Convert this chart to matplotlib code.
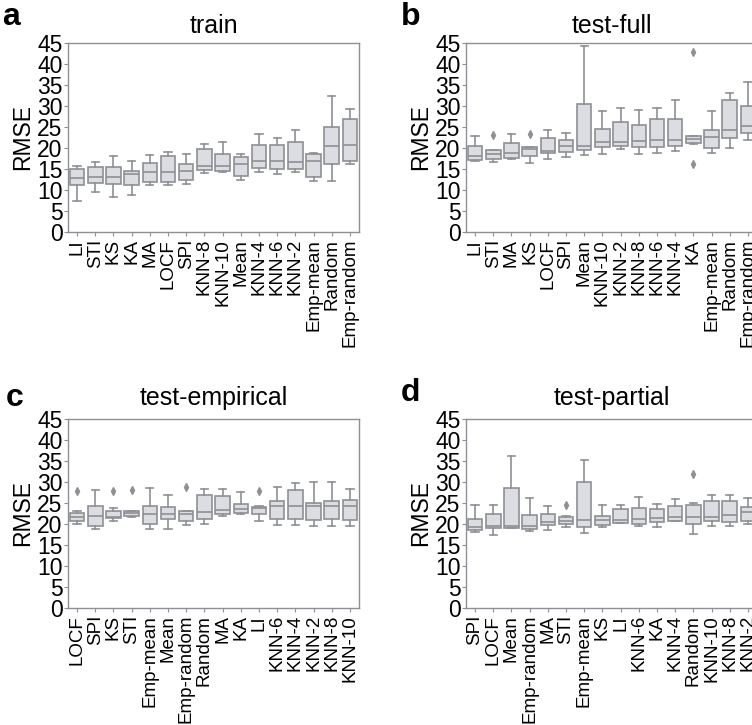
import matplotlib
matplotlib.use("Agg")
import matplotlib.pyplot as plt

plt.rcParams['font.family'] = ['Liberation Sans', 'DejaVu Sans']

# panel a: train
a_labels = ['LI', 'STI', 'KS', 'KA', 'MA', 'LOCF', 'SPI', 'KNN-8', 'KNN-10', 'Mean',
            'KNN-4', 'KNN-6', 'KNN-2', 'Emp-mean', 'Random', 'Emp-random']
a_lo = [7.4, 9.6, 8.3, 8.8, 11.3, 11.3, 11.5, 14.0, 14.2, 12.3, 14.4, 13.7, 14.4, 12.1, 12.2, 16.2]
a_q1 = [11.3, 11.6, 11.4, 11.1, 11.9, 12.0, 12.5, 14.7, 14.6, 13.4, 15.3, 15.0, 15.1, 13.0, 16.1, 16.8]
a_med = [12.9, 13.0, 13.0, 13.8, 14.3, 14.3, 14.6, 15.8, 15.8, 16.2, 16.8, 16.8, 16.7, 17.0, 20.5, 20.6]
a_q3 = [15.1, 15.4, 15.4, 14.6, 16.5, 18.0, 16.3, 19.7, 18.6, 17.8, 20.8, 20.6, 21.4, 18.6, 25.0, 26.8]
a_hi = [15.8, 16.7, 18.2, 17.0, 18.4, 19.1, 18.6, 20.9, 21.5, 18.6, 23.3, 22.5, 24.4, 18.7, 32.4, 29.3]
a_fliers = {}

# panel b: test-full
b_labels = ['LI', 'STI', 'MA', 'KS', 'LOCF', 'SPI', 'Mean', 'KNN-10', 'KNN-2', 'KNN-8',
            'KNN-6', 'KNN-4', 'KA', 'Emp-mean', 'Random', 'Emp-random']
b_lo = [16.9, 16.7, 17.4, 16.5, 17.4, 17.8, 18.3, 18.6, 19.7, 18.6, 18.9, 19.4, 20.9, 18.9, 20.1, 21.9]
b_q1 = [17.1, 17.5, 17.7, 18.0, 18.9, 19.0, 19.5, 20.2, 20.4, 20.2, 20.2, 20.5, 21.1, 19.9, 22.4, 23.6]
b_med = [18.2, 18.6, 18.8, 19.7, 19.2, 20.4, 20.5, 21.5, 21.5, 21.6, 21.8, 21.8, 22.1, 22.6, 24.2, 25.2]
b_q3 = [20.5, 19.5, 21.3, 20.2, 22.3, 22.0, 30.4, 24.6, 26.2, 25.4, 26.9, 26.9, 22.9, 24.4, 31.4, 29.9]
b_hi = [22.9, 19.6, 23.4, 20.3, 24.4, 23.6, 44.3, 28.8, 29.5, 29.1, 29.5, 31.4, 22.9, 28.7, 33.2, 35.7]
b_fliers = {'STI': [23.2], 'KS': [23.3], 'KA': [42.8, 16.3]}

# panel c: test-empirical
c_labels = ['LOCF', 'SPI', 'KS', 'STI', 'Emp-mean', 'Mean', 'Emp-random', 'Random', 'MA', 'KA',
            'LI', 'KNN-6', 'KNN-4', 'KNN-2', 'KNN-8', 'KNN-10']
c_lo = [20.0, 18.8, 20.7, 21.6, 18.9, 18.7, 19.8, 20.0, 21.9, 22.5, 20.8, 19.8, 19.8, 19.6, 19.6, 19.6]
c_q1 = [20.7, 19.6, 21.5, 21.8, 20.0, 21.2, 20.7, 21.2, 22.3, 22.7, 22.5, 21.1, 21.1, 21.0, 21.1, 21.0]
c_med = [21.7, 21.9, 21.7, 22.6, 22.5, 22.5, 22.5, 22.9, 23.3, 23.5, 23.7, 24.2, 24.4, 24.2, 24.4, 24.4]
c_q3 = [22.7, 24.3, 23.0, 23.1, 24.3, 24.0, 23.0, 27.0, 26.7, 24.8, 24.1, 25.4, 28.1, 24.9, 25.4, 25.6]
c_hi = [23.0, 28.1, 23.7, 23.2, 28.6, 27.0, 23.0, 28.4, 28.3, 27.7, 24.2, 28.9, 29.7, 30.0, 30.0, 28.3]
c_fliers = {'LOCF': [27.8], 'KS': [27.8], 'STI': [28.0], 'Emp-random': [28.9], 'LI': [27.8]}

# panel d: test-partial
d_labels = ['SPI', 'LOCF', 'Mean', 'Emp-random', 'MA', 'STI', 'Emp-mean', 'KS', 'LI', 'KNN-6',
            'KA', 'KNN-4', 'Random', 'KNN-10', 'KNN-8', 'KNN-2']
d_lo = [18.1, 17.4, 19.0, 18.4, 18.5, 19.2, 17.8, 19.4, 20.3, 19.6, 19.4, 20.6, 17.6, 19.6, 19.5, 20.0]
d_q1 = [18.6, 19.0, 19.0, 18.8, 19.8, 20.0, 19.4, 19.7, 20.3, 20.1, 20.4, 20.6, 20.0, 20.7, 20.4, 20.7]
d_med = [19.2, 19.6, 19.6, 19.6, 20.4, 20.7, 20.9, 20.9, 20.9, 21.2, 21.5, 21.7, 21.7, 21.7, 22.1, 22.8]
d_q3 = [21.1, 22.3, 28.5, 22.1, 22.3, 21.7, 30.0, 21.9, 23.5, 23.8, 23.5, 24.2, 24.5, 25.5, 25.4, 24.0]
d_hi = [24.5, 24.5, 36.1, 26.2, 24.2, 22.0, 35.2, 24.5, 24.5, 26.5, 24.8, 25.9, 25.1, 27.0, 26.8, 26.3]
d_fliers = {'STI': [24.6], 'Random': [32.0]}

panels = [
    ('a', 'train', a_labels, a_lo, a_q1, a_med, a_q3, a_hi, a_fliers),
    ('b', 'test-full', b_labels, b_lo, b_q1, b_med, b_q3, b_hi, b_fliers),
    ('c', 'test-empirical', c_labels, c_lo, c_q1, c_med, c_q3, c_hi, c_fliers),
    ('d', 'test-partial', d_labels, d_lo, d_q1, d_med, d_q3, d_hi, d_fliers),
]

W, H = 752, 725
fig = plt.figure(figsize=(W / 100, H / 100), dpi=100)

# axes boxes in pixels: left, top, width, height
boxes = [(68, 43, 291, 189), (466, 43, 291, 189),
         (68, 419, 291, 189), (466, 419, 291, 189)]
# panel letter positions (x, baseline y) and title pads
letter_pos = [(2, 25), (401, 25), (6, 406), (401, 401)]
title_pads = [7, 7, 10, 10]

edge = '#8f9096'
face = '#dcdde3'

for k, ((letter, title, labels, lo, q1, med, q3, hi, fliers), (l, t, w, h)) in enumerate(zip(panels, boxes)):
    ax = fig.add_axes([l / W, 1 - (t + h) / H, w / W, h / H])
    stats = []
    for i, name in enumerate(labels):
        stats.append({'whislo': lo[i], 'q1': q1[i], 'med': med[i], 'q3': q3[i],
                      'whishi': hi[i], 'fliers': fliers.get(name, []), 'label': name})
    ax.bxp(stats, positions=range(len(labels)), widths=0.8, patch_artist=True,
           boxprops=dict(facecolor=face, edgecolor=edge, linewidth=1.2),
           medianprops=dict(color=edge, linewidth=1.2),
           whiskerprops=dict(color=edge, linewidth=1.2),
           capprops=dict(color=edge, linewidth=1.2),
           flierprops=dict(marker='d', markerfacecolor=edge, markeredgecolor=edge,
                           markersize=4))
    ax.set_xlim(-0.5, len(labels) - 0.5)
    ax.set_ylim(0, 45)
    ax.set_yticks(range(0, 50, 5))
    ax.set_xticks(range(len(labels)))
    ax.set_xticklabels(labels, rotation=90, fontsize=13.5)
    ax.tick_params(axis='y', labelsize=16.5, length=3, color=edge, pad=1)
    ax.tick_params(axis='x', length=3, color=edge, pad=2)
    for s in ax.spines.values():
        s.set_color(edge)
        s.set_linewidth(1.0)
    ax.set_ylabel('RMSE', fontsize=16.5, labelpad=2)
    ax.set_title(title, fontsize=18, pad=title_pads[k])
    lx, ly = letter_pos[k]
    fig.text(lx / W, 1 - ly / H, letter, fontsize=23, fontweight='bold',
             va='baseline', ha='left')

fig.savefig('out.png', dpi=100)
